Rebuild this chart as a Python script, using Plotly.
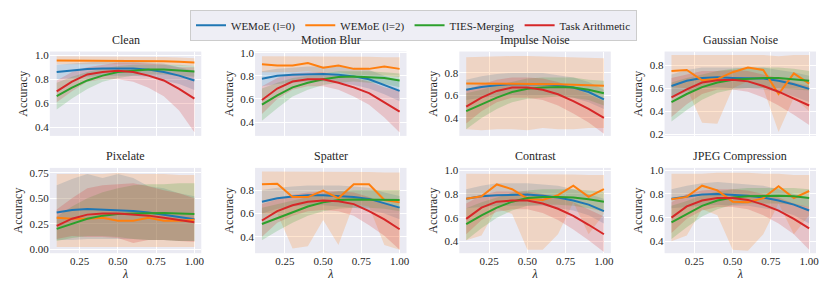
import plotly.graph_objects as go

LAMBDAS = [0.1, 0.2, 0.3, 0.4, 0.5, 0.6, 0.7, 0.8, 0.9, 1.0]
SERIES = ["WEMoE (l=0)", "WEMoE (l=2)", "TIES-Merging", "Task Arithmetic"]
COLORS = ["#1f77b4", "#ff7f0e", "#2ca02c", "#d62728"]
PANELS = ["Clean", "Motion Blur", "Impulse Noise", "Gaussian Noise",
          "Pixelate", "Spatter", "Contrast", "JPEG Compression"]

# order within each: WEMoE(l=0), WEMoE(l=2), TIES-Merging, Task Arithmetic
clean_mean = [[0.86, 0.875, 0.885, 0.89, 0.89, 0.89, 0.88, 0.86, 0.83, 0.79],
              [0.955, 0.955, 0.955, 0.955, 0.955, 0.955, 0.95, 0.95, 0.945, 0.94],
              [0.66, 0.73, 0.79, 0.83, 0.86, 0.87, 0.88, 0.88, 0.875, 0.865],
              [0.70, 0.78, 0.84, 0.86, 0.87, 0.86, 0.83, 0.79, 0.72, 0.64]]
clean_lo = [[0.80, 0.81, 0.82, 0.83, 0.83, 0.83, 0.82, 0.79, 0.76, 0.71],
            [0.925, 0.925, 0.925, 0.925, 0.925, 0.925, 0.92, 0.92, 0.915, 0.91],
            [0.55, 0.64, 0.72, 0.78, 0.81, 0.83, 0.84, 0.84, 0.83, 0.82],
            [0.61, 0.70, 0.78, 0.80, 0.80, 0.78, 0.73, 0.66, 0.54, 0.36]]
clean_hi = [[0.92, 0.93, 0.94, 0.95, 0.95, 0.95, 0.94, 0.93, 0.90, 0.87],
            [0.99, 0.99, 0.99, 0.99, 0.99, 0.99, 0.99, 0.985, 0.98, 0.975],
            [0.77, 0.82, 0.86, 0.89, 0.91, 0.92, 0.92, 0.92, 0.92, 0.91],
            [0.79, 0.86, 0.90, 0.92, 0.94, 0.94, 0.93, 0.92, 0.90, 0.90]]

motion_mean = [[0.775, 0.80, 0.81, 0.815, 0.815, 0.81, 0.795, 0.77, 0.72, 0.67],
               [0.90, 0.89, 0.89, 0.91, 0.87, 0.89, 0.86, 0.86, 0.88, 0.86],
               [0.55, 0.63, 0.70, 0.74, 0.77, 0.79, 0.795, 0.79, 0.78, 0.76],
               [0.59, 0.69, 0.75, 0.77, 0.77, 0.74, 0.70, 0.65, 0.57, 0.49]]
motion_lo = [[0.71, 0.73, 0.74, 0.75, 0.75, 0.74, 0.72, 0.69, 0.64, 0.58],
             [0.83, 0.83, 0.83, 0.84, 0.82, 0.83, 0.81, 0.80, 0.80, 0.79],
             [0.41, 0.52, 0.62, 0.68, 0.72, 0.74, 0.75, 0.74, 0.73, 0.70],
             [0.47, 0.60, 0.68, 0.71, 0.71, 0.68, 0.62, 0.55, 0.44, 0.31]]
motion_hi = [[0.84, 0.86, 0.87, 0.88, 0.88, 0.88, 0.87, 0.85, 0.80, 0.76],
             [0.97, 0.97, 0.97, 0.97, 0.97, 0.97, 0.965, 0.965, 0.96, 0.96],
             [0.69, 0.74, 0.78, 0.80, 0.82, 0.84, 0.84, 0.84, 0.83, 0.82],
             [0.71, 0.78, 0.82, 0.83, 0.83, 0.80, 0.78, 0.75, 0.70, 0.67]]

impulse_mean = [[0.65, 0.675, 0.69, 0.70, 0.70, 0.70, 0.69, 0.67, 0.63, 0.565],
                [0.705, 0.705, 0.705, 0.705, 0.705, 0.70, 0.70, 0.695, 0.69, 0.685],
                [0.46, 0.52, 0.58, 0.63, 0.66, 0.67, 0.675, 0.67, 0.65, 0.62],
                [0.50, 0.58, 0.64, 0.67, 0.67, 0.65, 0.61, 0.55, 0.48, 0.40]]
impulse_lo = [[0.56, 0.58, 0.59, 0.60, 0.60, 0.60, 0.60, 0.58, 0.54, 0.48],
              [0.30, 0.29, 0.30, 0.30, 0.29, 0.31, 0.30, 0.30, 0.31, 0.31],
              [0.30, 0.40, 0.48, 0.54, 0.57, 0.58, 0.59, 0.58, 0.56, 0.51],
              [0.35, 0.46, 0.54, 0.58, 0.58, 0.56, 0.51, 0.44, 0.36, 0.26]]
impulse_hi = [[0.74, 0.77, 0.79, 0.80, 0.80, 0.80, 0.78, 0.76, 0.72, 0.65],
              [0.94, 0.945, 0.95, 0.95, 0.95, 0.945, 0.94, 0.935, 0.935, 0.93],
              [0.62, 0.65, 0.69, 0.72, 0.75, 0.76, 0.76, 0.76, 0.74, 0.73],
              [0.65, 0.70, 0.74, 0.76, 0.76, 0.75, 0.72, 0.67, 0.61, 0.55]]

gauss_mean = [[0.62, 0.665, 0.69, 0.695, 0.69, 0.69, 0.685, 0.665, 0.635, 0.595],
              [0.75, 0.76, 0.67, 0.68, 0.74, 0.78, 0.76, 0.55, 0.73, 0.64],
              [0.48, 0.55, 0.61, 0.65, 0.675, 0.685, 0.69, 0.69, 0.68, 0.665],
              [0.52, 0.59, 0.65, 0.67, 0.675, 0.66, 0.62, 0.57, 0.51, 0.45]]
gauss_lo = [[0.52, 0.57, 0.60, 0.61, 0.60, 0.60, 0.59, 0.57, 0.53, 0.48],
            [0.61, 0.60, 0.30, 0.29, 0.60, 0.66, 0.60, 0.22, 0.52, 0.40],
            [0.31, 0.41, 0.50, 0.56, 0.59, 0.60, 0.60, 0.60, 0.59, 0.58],
            [0.35, 0.46, 0.55, 0.59, 0.59, 0.57, 0.52, 0.45, 0.37, 0.28]]
gauss_hi = [[0.72, 0.76, 0.78, 0.78, 0.78, 0.78, 0.78, 0.76, 0.74, 0.71],
            [0.89, 0.89, 0.89, 0.89, 0.89, 0.89, 0.89, 0.88, 0.89, 0.89],
            [0.65, 0.69, 0.72, 0.75, 0.77, 0.78, 0.78, 0.78, 0.77, 0.75],
            [0.69, 0.72, 0.75, 0.75, 0.76, 0.75, 0.72, 0.69, 0.65, 0.62]]

pix_mean = [[0.36, 0.385, 0.395, 0.39, 0.385, 0.375, 0.36, 0.34, 0.32, 0.295],
            [0.31, 0.30, 0.30, 0.31, 0.28, 0.28, 0.31, 0.28, 0.28, 0.29],
            [0.20, 0.25, 0.30, 0.33, 0.345, 0.35, 0.355, 0.355, 0.35, 0.345],
            [0.23, 0.30, 0.34, 0.35, 0.35, 0.34, 0.33, 0.31, 0.29, 0.265]]
pix_lo = [[0.09, 0.09, 0.10, 0.10, 0.10, 0.10, 0.09, 0.09, 0.08, 0.08],
          [0.02, 0.02, 0.02, 0.02, 0.02, 0.02, 0.02, 0.02, 0.02, 0.02],
          [0.08, 0.11, 0.13, 0.13, 0.12, 0.10, 0.09, 0.09, 0.08, 0.08],
          [0.10, 0.13, 0.12, 0.12, 0.11, 0.06, 0.09, 0.09, 0.08, 0.07]]
pix_hi = [[0.63, 0.69, 0.74, 0.70, 0.74, 0.70, 0.62, 0.60, 0.55, 0.52],
          [0.74, 0.74, 0.74, 0.74, 0.75, 0.74, 0.74, 0.74, 0.73, 0.73],
          [0.32, 0.42, 0.50, 0.56, 0.60, 0.63, 0.64, 0.64, 0.65, 0.65],
          [0.39, 0.50, 0.60, 0.63, 0.64, 0.65, 0.62, 0.58, 0.55, 0.50]]

spat_mean = [[0.70, 0.73, 0.745, 0.755, 0.755, 0.75, 0.74, 0.725, 0.69, 0.65],
             [0.85, 0.855, 0.74, 0.74, 0.795, 0.73, 0.85, 0.85, 0.715, 0.695],
             [0.51, 0.56, 0.61, 0.66, 0.695, 0.715, 0.72, 0.72, 0.72, 0.715],
             [0.54, 0.62, 0.67, 0.70, 0.71, 0.705, 0.68, 0.62, 0.55, 0.465]]
spat_lo = [[0.60, 0.64, 0.66, 0.67, 0.67, 0.66, 0.65, 0.63, 0.60, 0.55],
           [0.60, 0.60, 0.30, 0.32, 0.545, 0.33, 0.68, 0.66, 0.33, 0.29],
           [0.37, 0.45, 0.52, 0.58, 0.62, 0.64, 0.65, 0.65, 0.64, 0.62],
           [0.40, 0.52, 0.58, 0.62, 0.63, 0.62, 0.58, 0.50, 0.41, 0.29]]
spat_hi = [[0.80, 0.82, 0.83, 0.84, 0.84, 0.84, 0.83, 0.82, 0.78, 0.75],
           [0.96, 0.96, 0.96, 0.96, 0.96, 0.96, 0.955, 0.955, 0.95, 0.95],
           [0.65, 0.68, 0.71, 0.74, 0.77, 0.79, 0.80, 0.80, 0.80, 0.80],
           [0.68, 0.72, 0.76, 0.78, 0.79, 0.79, 0.78, 0.74, 0.69, 0.64]]

contr_mean = [[0.76, 0.78, 0.79, 0.795, 0.795, 0.785, 0.77, 0.745, 0.71, 0.655],
              [0.76, 0.78, 0.88, 0.84, 0.76, 0.75, 0.79, 0.87, 0.775, 0.84],
              [0.545, 0.62, 0.685, 0.735, 0.765, 0.775, 0.775, 0.77, 0.755, 0.735],
              [0.59, 0.685, 0.735, 0.745, 0.745, 0.72, 0.675, 0.615, 0.54, 0.46]]
contr_lo = [[0.68, 0.69, 0.70, 0.70, 0.70, 0.70, 0.68, 0.66, 0.62, 0.55],
            [0.41, 0.45, 0.68, 0.63, 0.33, 0.33, 0.46, 0.73, 0.46, 0.63],
            [0.41, 0.51, 0.60, 0.66, 0.70, 0.71, 0.71, 0.70, 0.68, 0.65],
            [0.46, 0.58, 0.65, 0.67, 0.67, 0.64, 0.58, 0.50, 0.41, 0.31]]
contr_hi = [[0.84, 0.87, 0.89, 0.89, 0.89, 0.88, 0.87, 0.84, 0.80, 0.76],
            [0.97, 0.97, 0.97, 0.97, 0.97, 0.97, 0.965, 0.965, 0.96, 0.96],
            [0.68, 0.73, 0.77, 0.81, 0.83, 0.84, 0.84, 0.84, 0.83, 0.82],
            [0.72, 0.79, 0.82, 0.82, 0.82, 0.80, 0.77, 0.73, 0.67, 0.61]]

jpeg_mean = [[0.76, 0.78, 0.795, 0.80, 0.795, 0.785, 0.77, 0.745, 0.71, 0.66],
             [0.755, 0.775, 0.87, 0.83, 0.735, 0.73, 0.765, 0.865, 0.765, 0.825],
             [0.56, 0.63, 0.70, 0.745, 0.77, 0.78, 0.785, 0.785, 0.78, 0.765],
             [0.60, 0.695, 0.745, 0.765, 0.765, 0.75, 0.71, 0.66, 0.59, 0.51]]
jpeg_lo = [[0.68, 0.69, 0.70, 0.71, 0.70, 0.70, 0.68, 0.66, 0.62, 0.55],
           [0.40, 0.45, 0.67, 0.62, 0.33, 0.32, 0.46, 0.72, 0.46, 0.62],
           [0.42, 0.52, 0.61, 0.67, 0.71, 0.72, 0.72, 0.72, 0.71, 0.69],
           [0.47, 0.59, 0.66, 0.69, 0.69, 0.67, 0.62, 0.55, 0.46, 0.33]]
jpeg_hi = [[0.84, 0.87, 0.89, 0.90, 0.89, 0.88, 0.87, 0.84, 0.80, 0.77],
           [0.97, 0.97, 0.97, 0.98, 0.98, 0.98, 0.97, 0.97, 0.96, 0.96],
           [0.70, 0.74, 0.79, 0.82, 0.84, 0.85, 0.85, 0.85, 0.85, 0.84],
           [0.73, 0.80, 0.83, 0.84, 0.84, 0.83, 0.80, 0.77, 0.72, 0.69]]

Y_RANGES = [[0.33, 1.03], [0.28, 1.01], [0.24, 0.99], [0.185, 0.92],
            [-0.04, 0.80], [0.26, 0.99], [0.30, 1.02], [0.30, 1.02]]
Y_TICKS = [[0.4, 0.6, 0.8, 1.0], [0.4, 0.6, 0.8, 1.0], [0.4, 0.6, 0.8], [0.2, 0.4, 0.6, 0.8],
           [0.0, 0.25, 0.5, 0.75], [0.4, 0.6, 0.8], [0.4, 0.6, 0.8, 1.0], [0.4, 0.6, 0.8, 1.0]]
X_TICKS = [0.25, 0.5, 0.75, 1.0]

DATA = [(clean_mean, clean_lo, clean_hi), (motion_mean, motion_lo, motion_hi),
        (impulse_mean, impulse_lo, impulse_hi), (gauss_mean, gauss_lo, gauss_hi),
        (pix_mean, pix_lo, pix_hi), (spat_mean, spat_lo, spat_hi),
        (contr_mean, contr_lo, contr_hi), (jpeg_mean, jpeg_lo, jpeg_hi)]

W, H = 830, 296
COL_PX = [(50, 202), (256, 408), (461, 613), (667, 819)]
ROW_PX = [(48, 135), (168, 256)]
FONT = "Liberation Serif"
TXT = "#262626"


def rgba(hexc, a):
    h = hexc.lstrip("#")
    return "rgba(%d,%d,%d,%s)" % (int(h[0:2], 16), int(h[2:4], 16), int(h[4:6], 16), a)


fig = go.Figure()
layout = {}
for p, name in enumerate(PANELS):
    r, c = divmod(p, 4)
    idx = "" if p == 0 else str(p + 1)
    xa, ya = "x" + idx, "y" + idx
    means, los, his = DATA[p]
    for s in range(4):
        fig.add_trace(go.Scatter(
            x=LAMBDAS + LAMBDAS[::-1], y=his[s] + los[s][::-1],
            fill="toself", fillcolor=rgba(COLORS[s], 0.2), line=dict(width=0),
            mode="lines", hoverinfo="skip", showlegend=False, xaxis=xa, yaxis=ya))
    for s in range(4):
        fig.add_trace(go.Scatter(
            x=LAMBDAS, y=means[s], mode="lines", name=SERIES[s],
            line=dict(color=COLORS[s], width=2), showlegend=(p == 0),
            xaxis=xa, yaxis=ya))
    x0, x1 = COL_PX[c]
    y0, y1 = ROW_PX[r]
    bottom = r == 1
    layout["xaxis" + idx] = dict(
        domain=[x0 / W, x1 / W], range=[0.055, 1.045], anchor=ya,
        tickvals=X_TICKS, tickformat=".2f", showticklabels=bottom,
        showgrid=True, gridcolor="white", gridwidth=1, zeroline=False, showline=False,
        ticks="", tickfont=dict(size=11, color=TXT, family=FONT),
        title=dict(text="<i>λ</i>" if bottom else "", font=dict(size=12, color=TXT, family=FONT), standoff=2))
    layout["yaxis" + idx] = dict(
        domain=[1 - y1 / H, 1 - y0 / H], range=Y_RANGES[p], anchor=xa,
        tickvals=Y_TICKS[p], tickformat=".2f" if p == 4 else ".1f",
        showgrid=True, gridcolor="white", gridwidth=1, zeroline=False, showline=False,
        ticks="", tickfont=dict(size=11, color=TXT, family=FONT),
        title=dict(text="Accuracy", font=dict(size=12, color=TXT, family=FONT), standoff=4))
    fig.add_annotation(text=name, x=(x0 + x1) / 2 / W, y=1 - (y0 - 3) / H,
                       xref="paper", yref="paper", xanchor="center", yanchor="bottom",
                       showarrow=False, font=dict(size=12, color=TXT, family=FONT))

fig.update_layout(
    width=W, height=H, margin=dict(l=0, r=0, t=0, b=0),
    paper_bgcolor="white", plot_bgcolor="#EAEAF2",
    font=dict(family=FONT, size=11, color=TXT),
    legend=dict(orientation="h", x=0.5, xanchor="center", y=1 - 5 / H, yanchor="top",
                bgcolor="rgba(234,234,242,0.8)", bordercolor="#cccccc", borderwidth=1,
                font=dict(size=11, color=TXT, family=FONT), itemwidth=30,
                tracegroupgap=0),
    **layout)

fig.write_html("out.html", config={"displayModeBar": False},
               post_script="document.body.style.margin='0';document.body.style.overflow='hidden';")
